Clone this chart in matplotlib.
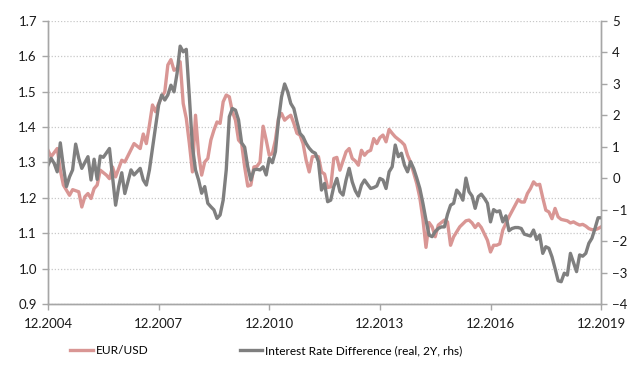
import matplotlib.pyplot as plt

# months counted from 12.2004 (0) to 12.2019 (180)
eur_month = [0, 1, 3, 4, 5, 7, 8, 10, 11, 12, 13, 14, 15, 16, 17, 19, 20, 21, 22, 24,
             25, 28, 30, 31, 32, 33, 34, 35, 36, 37, 38, 39, 40, 41, 42, 43, 44, 45, 46, 47,
             48, 49, 50, 51, 52, 53, 54, 55, 56, 57, 58, 59, 60, 61, 62, 63, 64, 65, 66, 67,
             68, 69, 70, 71, 72, 73, 74, 75, 76, 77, 78, 79, 80, 81, 82, 83, 84, 85, 86, 87,
             88, 89, 90, 91, 92, 93, 94, 95, 97, 98, 99, 100, 101, 102, 103, 104, 105, 106, 107, 108,
             109, 110, 111, 112, 113, 114, 115, 116, 117, 118, 119, 120, 121, 122, 123, 124, 125, 126, 127, 129,
             130, 131, 132, 134, 136, 137, 138, 139, 140, 141, 143, 144, 145, 146, 147, 148, 150, 152, 153, 154,
             155, 156, 157, 158, 159, 160, 161, 162, 163, 164, 165, 166, 167, 168, 169, 170, 171, 172, 173, 174,
             175, 176, 177, 178, 179, 180]
eur_usd = [1.334, 1.316, 1.339, 1.278, 1.236, 1.207, 1.223, 1.217, 1.174, 1.203, 1.212, 1.198, 1.226, 1.236, 1.278, 1.264, 1.254, 1.287, 1.259, 1.306,
           1.301, 1.353, 1.339, 1.380, 1.353, 1.405, 1.462, 1.443, 1.466, 1.485, 1.499, 1.575, 1.590, 1.560, 1.565, 1.584, 1.466, 1.424, 1.353, 1.273,
           1.433, 1.325, 1.264, 1.301, 1.311, 1.363, 1.391, 1.414, 1.410, 1.471, 1.490, 1.485, 1.443, 1.419, 1.363, 1.353, 1.287, 1.233, 1.236, 1.287,
           1.289, 1.301, 1.402, 1.363, 1.320, 1.325, 1.363, 1.424, 1.438, 1.419, 1.427, 1.433, 1.410, 1.382, 1.377, 1.353, 1.306, 1.273, 1.316, 1.318,
           1.316, 1.273, 1.267, 1.229, 1.231, 1.311, 1.314, 1.278, 1.330, 1.339, 1.311, 1.304, 1.292, 1.334, 1.320, 1.330, 1.334, 1.367, 1.353, 1.370,
           1.377, 1.358, 1.393, 1.382, 1.372, 1.365, 1.358, 1.349, 1.320, 1.300, 1.270, 1.240, 1.200, 1.140, 1.060, 1.130, 1.118, 1.090, 1.123, 1.137,
           1.132, 1.066, 1.090, 1.118, 1.135, 1.137, 1.129, 1.116, 1.127, 1.116, 1.080, 1.047, 1.066, 1.066, 1.070, 1.109, 1.146, 1.179, 1.195, 1.188,
           1.188, 1.212, 1.226, 1.245, 1.236, 1.238, 1.200, 1.165, 1.160, 1.141, 1.170, 1.146, 1.139, 1.137, 1.135, 1.129, 1.132, 1.127, 1.123, 1.125,
           1.120, 1.113, 1.110, 1.110, 1.113, 1.118]

ird_month = [0, 1, 2, 3, 4, 5, 6, 7, 8, 9, 10, 11, 13, 14, 15, 16, 17, 18, 20, 21,
             22, 23, 24, 25, 26, 27, 28, 30, 31, 32, 33, 34, 35, 36, 37, 38, 39, 40, 41, 42,
             43, 44, 45, 46, 47, 48, 49, 50, 51, 52, 53, 54, 55, 56, 57, 58, 59, 60, 61, 62,
             63, 64, 65, 66, 67, 68, 69, 70, 71, 72, 73, 74, 75, 76, 77, 78, 79, 80, 81, 82,
             83, 84, 85, 86, 87, 88, 89, 90, 91, 92, 93, 94, 95, 96, 97, 98, 99, 100, 101, 102,
             103, 104, 105, 106, 107, 108, 109, 110, 111, 112, 113, 114, 115, 116, 117, 118, 119, 120, 121, 122,
             123, 124, 125, 126, 127, 128, 129, 130, 131, 132, 133, 134, 135, 136, 137, 138, 139, 140, 141, 142,
             143, 144, 145, 146, 147, 148, 149, 150, 151, 152, 153, 154, 155, 156, 157, 158, 159, 160, 161, 162,
             163, 164, 165, 166, 167, 168, 169, 170, 172, 173, 174, 175, 176, 177, 178, 179, 180]
ird = [0.41, 0.63, 0.47, 0.20, 1.12, 0.36, -0.27, 0.04, 0.26, 1.08, 0.63, 0.31, 0.68, -0.06, 0.60, -0.04, 0.70, 0.66, 0.94, 0.04,
       -0.86, -0.27, 0.17, -0.49, -0.12, 0.26, 0.10, 0.31, -0.06, -0.22, 0.26, 0.94, 1.63, 2.32, 2.64, 2.48, 2.64, 2.95, 2.74, 3.33,
       4.19, 4.01, 4.09, 2.58, 1.00, 0.26, -0.06, -0.48, -0.27, -0.80, -0.91, -1.01, -1.28, -1.17, -0.70, 0.26, 1.95, 2.21, 2.16, 1.85,
       1.12, 0.98, 0.36, -0.06, 0.26, 0.28, 0.26, 0.36, 0.10, 0.63, 0.49, 0.84, 1.84, 2.58, 2.99, 2.74, 2.37, 2.21, 1.79, 1.42,
       1.31, 1.10, 0.95, 0.84, 0.79, 0.52, -0.38, -0.17, -0.75, -0.70, -0.27, -0.01, -0.43, -0.54, -0.06, 0.31, -0.12, -0.40, -0.57, -0.22,
       -0.06, -0.20, -0.33, -0.30, -0.25, -0.01, -0.06, -0.33, 0.20, 0.36, 1.05, 0.68, 0.79, 0.41, 0.20, 0.52, 0.30, 0.00, -0.33, -0.80,
       -1.33, -1.81, -1.86, -1.70, -1.60, -1.55, -1.55, -1.15, -0.86, -0.80, -0.38, -0.50, -0.70, 0.00, -0.43, -0.57, -0.96, -0.59, -0.51, -0.64,
       -0.80, -1.39, -1.00, -1.07, -1.04, -1.39, -1.20, -1.67, -1.60, -1.57, -1.57, -1.60, -1.78, -1.81, -1.84, -1.65, -1.95, -1.81, -2.39, -2.18,
       -2.23, -2.50, -2.87, -3.26, -3.29, -3.02, -3.08, -2.39, -2.97, -2.44, -2.48, -2.39, -2.07, -1.91, -1.60, -1.26, -1.26]

tick_month = [0, 36, 72, 108, 144, 180]
tick_label = ['12.2004', '12.2007', '12.2010', '12.2013', '12.2016', '12.2019']

plt.rcParams['font.family'] = ['Lato', 'DejaVu Sans']
plt.rcParams['font.size'] = 9.2

pink = '#d99694'
grey = '#7f7f7f'
axis_col = '#a6a6a6'
text_col = '#1a1a1a'

fig = plt.figure(figsize=(6.3, 3.69), dpi=100)
ax = fig.add_axes([0.0762, 0.176, 0.878, 0.768])
ax2 = ax.twinx()

ax.plot(eur_month, eur_usd, color=pink, lw=2.4, solid_joinstyle='round', label='EUR/USD')
ax2.plot(ird_month, ird, color=grey, lw=2.4, solid_joinstyle='round',
         label='Interest Rate Difference (real, 2Y, rhs)')

ax.set_xlim(0, 180)
ax.set_ylim(0.9, 1.7)
ax2.set_ylim(-4, 5)
ax.set_yticks([0.9, 1.0, 1.1, 1.2, 1.3, 1.4, 1.5, 1.6, 1.7])
ax.set_yticklabels(['0.9', '1.0', '1.1', '1.2', '1.3', '1.4', '1.5', '1.6', '1.7'])
ax2.set_yticks(range(-4, 6))
ax.set_xticks(tick_month)
ax.set_xticklabels(tick_label)

ax.yaxis.grid(True, linestyle=(0, (1, 1.5)), color='#c8c8c8', lw=0.9)
ax.set_axisbelow(True)

for a in (ax, ax2):
    a.spines['top'].set_visible(False)
    for s in ('left', 'right', 'bottom'):
        a.spines[s].set_color(axis_col)
        a.spines[s].set_linewidth(1.0)
    a.tick_params(colors=axis_col, labelcolor=text_col, length=4, width=1.0, labelsize=9.5)
ax.tick_params(axis='x', direction='out', pad=6)
ax.tick_params(axis='y', pad=4)
ax2.tick_params(axis='y', pad=4)

handles = ax.get_lines() + ax2.get_lines()
fig.legend(handles, [h.get_label() for h in handles], loc='center', bbox_to_anchor=(0.423, 0.049),
           ncol=2, frameon=False, fontsize=8.6, handlelength=1.9, handletextpad=0.25,
           columnspacing=7.6)

fig.savefig('out.png', dpi=100)
